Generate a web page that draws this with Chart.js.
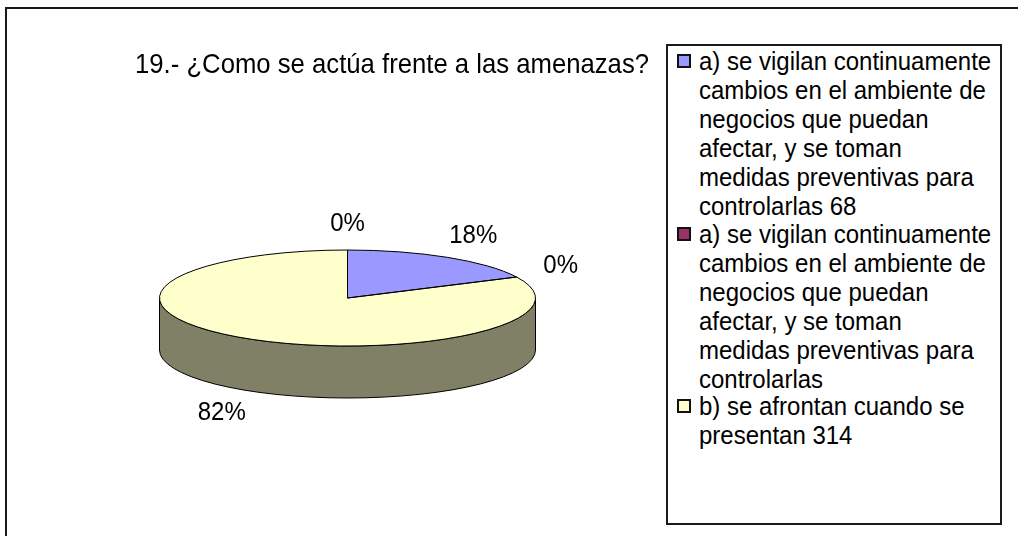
<!DOCTYPE html>
<html>
<head>
<meta charset="utf-8">
<script src="https://cdn.jsdelivr.net/npm/chart.js@4.4.1/dist/chart.umd.min.js"></script>
<style>
  html, body { margin: 0; padding: 0; background: #fff; overflow: hidden; }
  #page { position: relative; width: 1018px; height: 536px; overflow: hidden; font-family: 'Liberation Sans', Arial, sans-serif; color: #000; }
  #frame { position: absolute; left: 5px; top: 7px; width: 1100px; height: 600px; border-left: 2px solid #1a1a1a; border-top: 2px solid #1a1a1a; }
  #chart-wrap { position: absolute; left: 0; top: 0; width: 1018px; height: 536px; }
  #title { position: absolute; left: 135px; top: 48px; font-size: 25.7px; line-height: 30px; white-space: nowrap; transform: scaleY(1.1); transform-origin: 50% 50%; }
  #legend { position: absolute; left: 666px; top: 44px; width: 332px; height: 477px; border: 2px solid #1a1a1a; background: #fff; }
  .item { position: relative; padding-left: 31px; font-size: 24px; line-height: 29px; white-space: nowrap; margin-bottom: -1.5px; }
  .item div { transform: scaleY(1.1); transform-origin: 50% 50%; }
  .swatch { position: absolute; left: 9px; top: 8px; width: 10px; height: 10px; border: 2px solid #111; }
</style>
</head>
<body>
<div id="page">
  <div id="frame"></div>
  <div id="chart-wrap"><canvas id="chart"></canvas></div>
  <div id="title"></div>
  <div id="legend"></div>
</div>
<script>
const titleText = '19.- ¿Como se actúa frente a las amenazas?';

const categories = [
    ['a) se vigilan continuamente', 'cambios en el ambiente de', 'negocios que puedan', 'afectar, y se toman', 'medidas preventivas para', 'controlarlas 68'],
    ['a) se vigilan continuamente', 'cambios en el ambiente de', 'negocios que puedan', 'afectar, y se toman', 'medidas preventivas para', 'controlarlas'],
    ['b) se afrontan cuando se', 'presentan 314'],
    '',
];
const values = [68, 0, 314, 0];
const colors = ['#9999FF', '#993366', '#FFFFCC', '#CCFFFF'];

// look of the old 3-D pie
const TILT = 48 / 188;
const DEPTH = 52;
const LABEL_GAP_X = 49;
const LABEL_GAP_Y = 26;
const TEXT_STRETCH = 1.1;
const FONT = '"Liberation Sans", Arial, sans-serif';

function shade(hex, f) {
    const n = parseInt(hex.slice(1), 16);
    const r = Math.round(((n >> 16) & 255) * f);
    const g = Math.round(((n >> 8) & 255) * f);
    const b = Math.round((n & 255) * f);
    return `rgb(${r},${g},${b})`;
}

const pie3d = {
    id: 'pie3d',
    beforeDatasetsDraw(chart) {
        const ctx = chart.ctx;
        const arcs = chart.getDatasetMeta(0).data;
        const { x: cx, y: cy, outerRadius: R } = arcs[0];
        const r = R * TILT;

        // side wall, only the front half is visible
        ctx.save();
        ctx.lineWidth = 1;
        ctx.strokeStyle = '#000';
        arcs.forEach((arc, i) => {
            for (let k = -1; k <= 1; k++) {
                const a0 = Math.max(arc.startAngle, 2 * Math.PI * k);
                const a1 = Math.min(arc.endAngle, 2 * Math.PI * k + Math.PI);
                if (a1 - a0 <= 1e-6) continue;
                ctx.beginPath();
                ctx.ellipse(cx, cy, R, r, 0, a0, a1);
                ctx.lineTo(cx + R * Math.cos(a1), cy + r * Math.sin(a1) + DEPTH);
                ctx.ellipse(cx, cy + DEPTH, R, r, 0, a1, a0, true);
                ctx.closePath();
                ctx.fillStyle = shade(colors[i], 0.5);
                ctx.fill();
                ctx.stroke();
            }
        });
        ctx.restore();

        // squash the top face into an ellipse
        ctx.save();
        ctx.translate(cx, cy);
        ctx.scale(1, TILT);
        ctx.translate(-cx, -cy);
    },
    afterDatasetsDraw(chart) {
        const ctx = chart.ctx;
        ctx.restore();

        const arcs = chart.getDatasetMeta(0).data;
        const { x: cx, y: cy, outerRadius: R } = arcs[0];
        const r = R * TILT;
        const data = chart.data.datasets[0].data;
        const total = data.reduce((a, b) => a + b, 0);

        ctx.save();
        ctx.lineWidth = 1;
        ctx.strokeStyle = '#000';
        arcs.forEach(arc => {
            if (arc.endAngle - arc.startAngle <= 1e-6) return;
            ctx.beginPath();
            ctx.moveTo(cx, cy);
            ctx.ellipse(cx, cy, R, r, 0, arc.startAngle, arc.endAngle);
            ctx.closePath();
            ctx.stroke();
        });

        ctx.font = '24px ' + FONT;
        ctx.fillStyle = '#000';
        ctx.textAlign = 'center';
        ctx.textBaseline = 'middle';
        arcs.forEach((arc, i) => {
            const mid = (arc.startAngle + arc.endAngle) / 2;
            const lx = cx + (R + LABEL_GAP_X) * Math.cos(mid);
            let ly = cy + (r + LABEL_GAP_Y) * Math.sin(mid);
            if (Math.sin(mid) > 0) ly += DEPTH;
            ctx.save();
            ctx.translate(lx, ly);
            ctx.scale(1, TEXT_STRETCH);
            ctx.fillText(Math.round(data[i] / total * 100) + '%', 0, 0);
            ctx.restore();
        });
        ctx.restore();
    },
};

const htmlLegend = {
    id: 'htmlLegend',
    afterUpdate(chart) {
        const box = document.getElementById('legend');
        box.innerHTML = '';
        const items = chart.options.plugins.legend.labels.generateLabels(chart);
        items.filter(it => it.text && it.text.length).forEach(it => {
            const row = document.createElement('div');
            row.className = 'item';
            const sw = document.createElement('span');
            sw.className = 'swatch';
            sw.style.background = it.fillStyle;
            row.appendChild(sw);
            [].concat(it.text).forEach(line => {
                const d = document.createElement('div');
                d.textContent = line;
                row.appendChild(d);
            });
            box.appendChild(row);
        });
    },
};

document.getElementById('title').textContent = titleText;

new Chart(document.getElementById('chart'), {
    type: 'pie',
    data: {
        labels: categories,
        datasets: [{
            data: values,
            backgroundColor: colors,
            borderWidth: 0,
            radius: 188,
        }],
    },
    options: {
        responsive: true,
        maintainAspectRatio: false,
        animation: false,
        events: [],
        layout: { padding: { left: 0, right: 323, top: 60, bottom: 0 } },
        plugins: {
            legend: { display: false },
            title: { display: false },
            tooltip: { enabled: false },
        },
    },
    plugins: [pie3d, htmlLegend],
});
</script>
</body>
</html>
